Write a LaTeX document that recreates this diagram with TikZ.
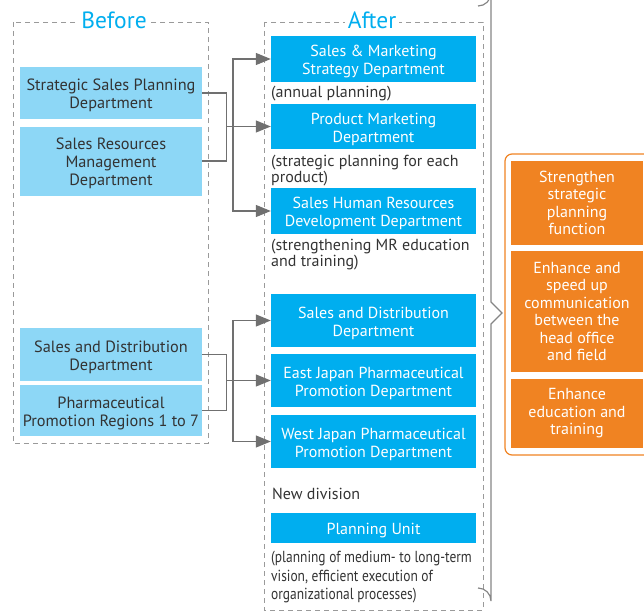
\documentclass[tikz,border=0pt]{standalone}
\usepackage{fontspec}
\setmainfont{PT Sans}
\newfontfamily\narrowsans[FakeStretch=0.84]{PT Sans}
\usetikzlibrary{arrows.meta}
\definecolor{cyanbox}{HTML}{00AEEF}
\definecolor{lightbox}{HTML}{8DD7F6}
\definecolor{orangebox}{HTML}{F08322}
\definecolor{darktext}{HTML}{333333}
\definecolor{linegray}{HTML}{707070}
\definecolor{dashgray}{HTML}{9A9A9A}
% taller first line, so that the lines sit a little lower in their boxes
\newcommand\boxstrut{\rule{0pt}{17pt}}
\begin{document}
\begin{tikzpicture}[x=1pt,y=-1pt,
  oldbox/.style={fill=lightbox, text=darktext, align=center, inner sep=0pt,
    minimum width=182pt, font=\fontsize{16.3}{18}\selectfont},
  newbox/.style={fill=cyanbox, text=white, align=center, inner sep=0pt,
    minimum width=205pt, font=\fontsize{16}{18}\selectfont},
  goalbox/.style={fill=orangebox, text=white, align=center, inner sep=0pt,
    minimum width=132pt, font=\fontsize{16}{17.5}\selectfont},
  note/.style={text=darktext, align=left, anchor=north west, inner sep=0pt,
    font=\fontsize{16}{16}\selectfont},
  title/.style={text=cyanbox, fill=white, inner xsep=3pt, inner ysep=0pt,
    font=\fontsize{23.5}{26}\selectfont},
  frame/.style={draw=dashgray, dashed, dash pattern=on 5pt off 4pt, line width=0.9pt},
  link/.style={draw=linegray, line width=1.3pt},
  arr/.style={link, -{Triangle[length=15pt,width=12pt]}},
]
\useasboundingbox (0,0) rectangle (644,615);

% dashed frames with titles
\draw[frame] (13,22) rectangle (208,443);
\draw[frame] (264,22) rectangle (483,610);
\node[title] (tbefore) at (114,20) {Before};
\node[title] (tafter) at (372,20) {After};

% brace around the new organisation
\draw[draw=linegray!85, line width=1.2pt, line join=miter]
  (478,6) arc[start angle=90, end angle=0, radius=13] -- (491,302)
  -- (502,313) -- (491,324) -- (491,601)
  arc[start angle=0, end angle=-90, radius=13];

% departments before
\node[oldbox, minimum height=52pt] (b1) at (111,93) {\boxstrut Strategic Sales Planning\\Department};
\node[oldbox, minimum height=69pt] (b2) at (111,161) {\boxstrut Sales Resources\\Management\\Department};
\node[oldbox, minimum height=53pt] (b3) at (111,354.5) {\boxstrut Sales and Distribution\\Department};
\node[oldbox, minimum height=51pt] (b4) at (111,410.5) {\boxstrut Pharmaceutical\\Promotion Regions 1 to 7};

% departments after
\node[newbox, minimum height=46pt] (a1) at (373.5,59) {\boxstrut Sales \& Marketing\\Strategy Department};
\node[newbox, minimum height=45pt] (a2) at (373.5,126.5) {\boxstrut Product Marketing\\Department};
\node[newbox, minimum height=46pt] (a3) at (373.5,211) {\boxstrut Sales Human Resources\\Development Department};
\node[newbox, minimum height=53pt] (c1) at (373.5,320.5) {\boxstrut Sales and Distribution\\Department};
\node[newbox, minimum height=53pt] (c2) at (373.5,380.5) {\boxstrut East Japan Pharmaceutical\\Promotion Department};
\node[newbox, minimum height=53pt] (c3) at (373.5,441.5) {\boxstrut West Japan Pharmaceutical\\Promotion Department};
\node[newbox, minimum height=30pt] (pu) at (373.5,528) {\boxstrut Planning Unit};

% notes
\node[note] (n1) at (271,86) {(annual planning)};
\node[note] (n2) at (271,155) {(strategic planning for each\\product)};
\node[note] (n3) at (271,239) {(strengthening MR education\\and training)};
\node[note] (nd) at (272,488) {New division};
\node[note, font=\narrowsans\fontsize{16}{18.5}\selectfont] (n4) at (271,551) {(planning of medium- to long-term\\vision, efficient execution of\\organizational processes)};

% upper connectors
\draw[link] (b1.east) -- ++(24,0) |- (b2.east);
\coordinate (j1) at (226,126.5);
\coordinate (k1) at (233,126.5);
\draw[arr] (j1) -- (a2.west);
\draw[arr] (k1) |- (a1.west);
\draw[arr] (k1) |- (a3.west);

% lower connectors
\draw[link] (b3.east) -- ++(24,0) |- (b4.east);
\coordinate (j2) at (226,380.5);
\coordinate (k2) at (233,380.5);
\draw[arr] (j2) -- (c2.west);
\draw[arr] (k2) |- (c1.west);
\draw[arr] (k2) |- (c3.west);

% aims
\draw[draw=orangebox, line width=1.2pt, fill=white, rounded corners=7pt] (505,154) rectangle (652,455);
\node[goalbox, minimum height=84pt] (o1) at (577,203) {Strengthen\\strategic\\planning\\function};
\node[goalbox, minimum height=121pt] (o2) at (577,311.5) {Enhance and\\speed up\\communication\\between the\\head office\\and field};
\node[goalbox, minimum height=69pt] (o3) at (577,413.5) {Enhance\\education and\\training};
\end{tikzpicture}
\end{document}
